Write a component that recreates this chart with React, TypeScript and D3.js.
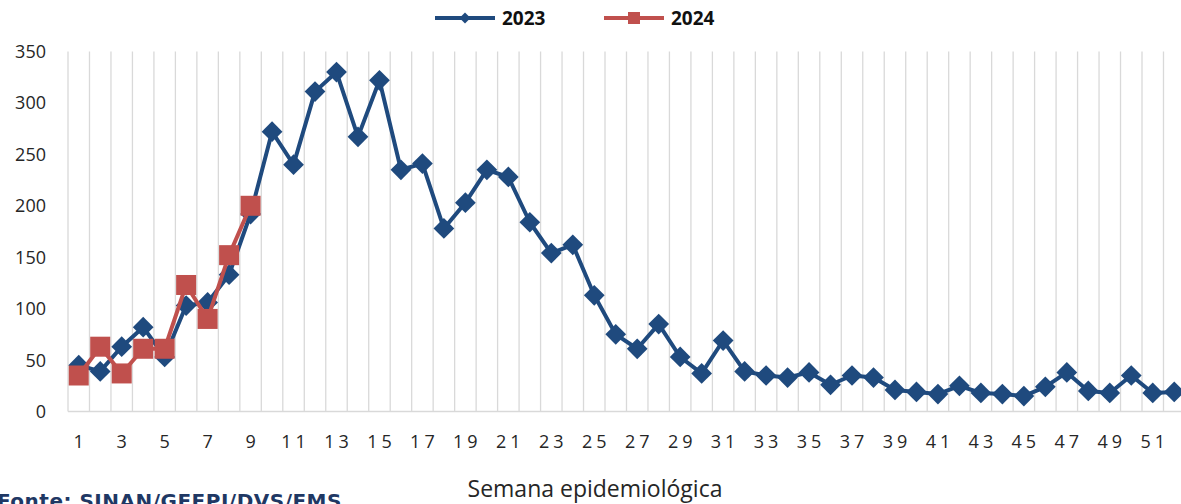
import React, { useEffect, useRef } from "react";
import * as d3 from "d3";

// semanas epidemiológicas 1..52
const weeks = d3.range(1, 53);

// casos por semana
const cases2023 = [
  45, 39, 63, 82, 53, 103, 106, 133, 192, 272, 240, 311, 330, 267, 322, 235, 241,
  178, 203, 235, 228, 184, 154, 162, 113, 75, 61, 85, 53, 37, 69, 39, 35, 33, 38,
  26, 35, 33, 21, 19, 17, 25, 18, 17, 15, 24, 38, 20, 18, 35, 18, 19,
];
const cases2024 = [35, 63, 37, 61, 61, 123, 90, 152, 200];

const yTicks = [0, 50, 100, 150, 200, 250, 300, 350];
const xTickLabels = weeks.filter((w) => w % 2 === 1);

const BLUE = "#1f4a7e";
const RED = "#c0504d";

const App = () => {
  const ref = useRef<SVGSVGElement>(null);

  useEffect(() => {
    const width = 1181;
    const margin = { top: 51.5, left: 68, bottom: 411.5 };

    const svg = d3.select(ref.current);
    svg.selectAll("*").remove();

    const x = d3
      .scaleBand<number>()
      .domain(weeks)
      .range([margin.left, margin.left + 52 * 21.48]);
    const y = d3.scaleLinear().domain([0, 350]).range([margin.bottom, margin.top]);

    const cx = (w: number) => (x(w) as number) + x.bandwidth() / 2;

    // vertical gridlines at band edges
    svg
      .append("g")
      .selectAll("line")
      .data(weeks.concat([53]))
      .enter()
      .append("line")
      .attr("x1", (d) => margin.left + (d - 1) * x.step())
      .attr("x2", (d) => margin.left + (d - 1) * x.step())
      .attr("y1", y(350))
      .attr("y2", y(0))
      .attr("stroke", "#d9d9d9")
      .attr("stroke-width", 1.3);

    // x axis line
    svg
      .append("line")
      .attr("x1", margin.left)
      .attr("x2", width)
      .attr("y1", y(0))
      .attr("y2", y(0))
      .attr("stroke", "#d9d9d9")
      .attr("stroke-width", 1.5);

    // y tick labels
    svg
      .append("g")
      .selectAll("text")
      .data(yTicks)
      .enter()
      .append("text")
      .attr("x", 46)
      .attr("y", (d) => y(d) + 6.5)
      .attr("text-anchor", "end")
      .attr("font-family", "Open Sans")
      .attr("font-size", 18)
      .attr("fill", "#262626")
      .text((d) => d);

    // x tick labels (odd weeks)
    svg
      .append("g")
      .selectAll("text")
      .data(xTickLabels)
      .enter()
      .append("text")
      .attr("x", (d) => cx(d) + 2)
      .attr("y", 448)
      .attr("text-anchor", "middle")
      .attr("font-family", "Open Sans")
      .attr("font-size", 18)
      .attr("letter-spacing", 4)
      .attr("fill", "#262626")
      .text((d) => d);

    const line = d3
      .line<number>()
      .x((_, i) => cx(weeks[i]))
      .y((d) => y(d));

    // 2023 series
    svg
      .append("path")
      .datum(cases2023)
      .attr("d", line)
      .attr("fill", "none")
      .attr("stroke", BLUE)
      .attr("stroke-width", 4)
      .attr("stroke-linejoin", "round");
    svg
      .append("g")
      .selectAll("path")
      .data(cases2023)
      .enter()
      .append("path")
      .attr("d", d3.symbol(d3.symbolSquare, 215)())
      .attr(
        "transform",
        (d, i) => `translate(${cx(weeks[i])},${y(d)}) rotate(45)`
      )
      .attr("fill", BLUE);

    // 2024 series
    svg
      .append("path")
      .datum(cases2024)
      .attr("d", line)
      .attr("fill", "none")
      .attr("stroke", RED)
      .attr("stroke-width", 4)
      .attr("stroke-linejoin", "round");
    svg
      .append("g")
      .selectAll("rect")
      .data(cases2024)
      .enter()
      .append("rect")
      .attr("x", (d, i) => cx(weeks[i]) - 10)
      .attr("y", (d) => y(d) - 10)
      .attr("width", 20)
      .attr("height", 20)
      .attr("fill", RED);

    // legend
    const legend = svg.append("g");
    const items = [
      { name: "2023", color: BLUE, x0: 435 },
      { name: "2024", color: RED, x0: 604 },
    ];
    items.forEach((it, i) => {
      legend
        .append("line")
        .attr("x1", it.x0)
        .attr("x2", it.x0 + 60)
        .attr("y1", 18)
        .attr("y2", 18)
        .attr("stroke", it.color)
        .attr("stroke-width", 4);
      if (i === 0) {
        legend
          .append("path")
          .attr("d", d3.symbol(d3.symbolSquare, 60)())
          .attr("transform", `translate(${it.x0 + 30},18) rotate(45)`)
          .attr("fill", it.color);
      } else {
        legend
          .append("rect")
          .attr("x", it.x0 + 24)
          .attr("y", 12)
          .attr("width", 12)
          .attr("height", 12)
          .attr("fill", it.color);
      }
      legend
        .append("text")
        .attr("x", it.x0 + 67)
        .attr("y", 25)
        .attr("font-family", "Open Sans")
        .attr("font-weight", "bold")
        .attr("font-size", 19)
        .attr("fill", "#111")
        .text(it.name);
    });

    // axis title
    svg
      .append("text")
      .attr("x", 595)
      .attr("y", 497)
      .attr("text-anchor", "middle")
      .attr("font-family", "Open Sans")
      .attr("font-size", 23)
      .attr("fill", "#262626")
      .text("Semana epidemiológica");

    // source note (cut at the bottom edge, as in the original)
    svg
      .append("text")
      .attr("x", -3)
      .attr("y", 508)
      .attr("font-family", "DejaVu Sans")
      .attr("font-weight", "bold")
      .attr("font-size", 20)
      .attr("letter-spacing", 0.5)
      .attr("fill", "#1f3864")
      .text("Fonte: SINAN/GEEPI/DVS/EMS");
  }, []);

  return (
    <svg
      ref={ref}
      width={1181}
      height={504}
      style={{ position: "absolute", left: 0, top: 0, background: "#fff" }}
    ></svg>
  );
};

export default App;
